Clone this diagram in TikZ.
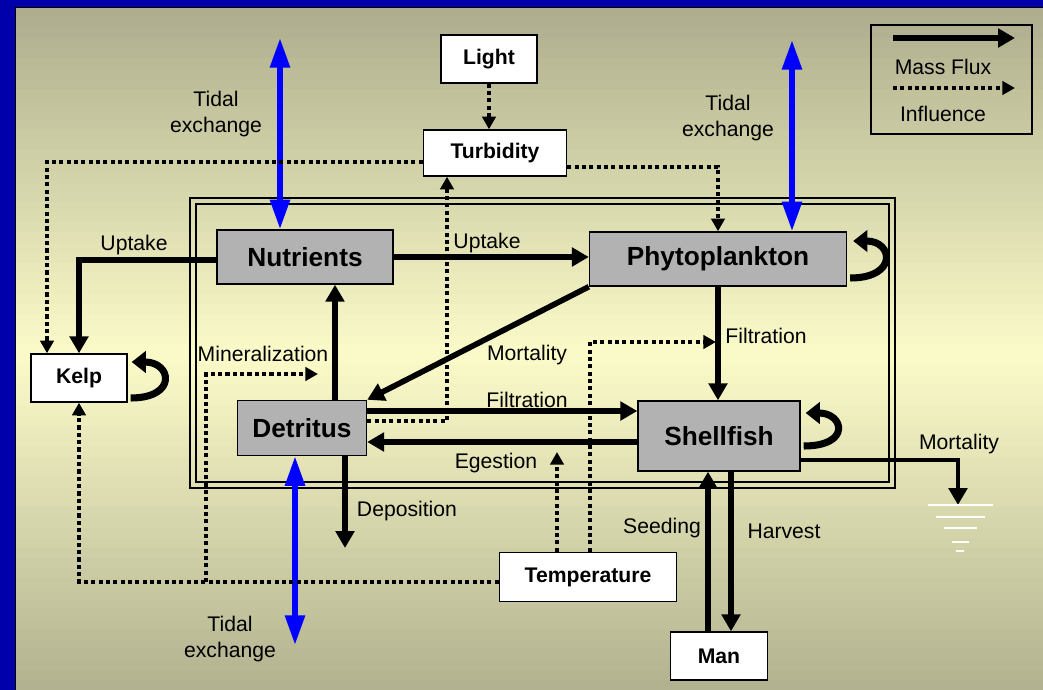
\documentclass[tikz,border=0pt]{standalone}
\usepackage{fontspec}
\setmainfont{Liberation Sans}
\usetikzlibrary{arrows.meta,calc,positioning}

\definecolor{frameblue}{HTML}{0000AA}
\definecolor{bgtop}{HTML}{AEAE8E}
\definecolor{bgmid}{HTML}{FAFAC8}
\definecolor{bgbot}{HTML}{B0B08E}
\definecolor{poolgray}{HTML}{B2B2B2}
\definecolor{tideblue}{HTML}{0000FF}

\tikzset{
  pool/.style={draw=black,line width=1pt,fill=poolgray,inner sep=0pt,
    font=\fontsize{18.6}{20}\selectfont\bfseries},
  driver/.style={draw=black,line width=1pt,fill=white,inner sep=0pt,
    font=\fontsize{15}{17}\selectfont\bfseries},
  lbl/.style={font=\fontsize{15}{18.4}\selectfont,align=center,inner sep=0pt},
  flux/.style={line width=4pt,-{Triangle[length=12pt,width=13pt]}},
  infl/.style={line width=2.9pt,dash pattern=on 2.9pt off 2.3pt,
    -{Triangle[length=9pt,width=9.5pt]}},
  tide/.style={tideblue,line width=4pt,
    {Triangle[length=21pt,width=13.5pt]}-{Triangle[length=21pt,width=13.5pt]}},
  selfloop/.style={line width=5pt,-{Triangle[length=10pt,width=15pt]}},
}

\begin{document}
\begin{tikzpicture}[x=0.7087pt,y=-0.7087pt]
  \useasboundingbox (0,0) rectangle (1043,690);
  % background
  \fill[frameblue] (0,0) rectangle (1043,690);
  \foreach \i in {0,...,33} {
    \pgfmathsetmacro\p{100*\i/33}
    \fill[bgmid!\p!bgtop] (15,7+\i*10.25) rectangle (1043,18+\i*10.25);
  }
  \foreach \i in {0,...,33} {
    \pgfmathsetmacro\p{100*\i/33}
    \fill[bgbot!\p!bgmid] (15,355+\i*10.15) rectangle (1043,366+\i*10.15);
  }
  \draw[line width=1.2pt] (15.5,690) -- (15.5,7.5) -- (1043,7.5);

  % system boundary
  \draw[line width=2pt] (190,198) rectangle (895,488);
  \draw[line width=1.2pt] (196,204) rectangle (889,482);

  % state variables and forcings
  \node[driver,minimum width=68pt,minimum height=34pt] (light) at (489,59) {Light};
  \node[driver,minimum width=101.3pt,minimum height=32.6pt] (turb) at (495,153) {Turbidity};
  \node[pool,minimum width=124.7pt,minimum height=38.3pt] (nut) at (305,257) {Nutrients};
  \node[pool,minimum width=182.1pt,minimum height=38.3pt] (phyto) at (718,259) {Phytoplankton};
  \node[driver,minimum width=68pt,minimum height=34pt] (kelp) at (79,378) {Kelp};
  \node[pool,minimum width=91.4pt,minimum height=39pt] (det) at (302,428) {Detritus};
  \node[pool,minimum width=114.8pt,minimum height=49.6pt] (shell) at (719,436) {Shellfish};
  \node[driver,minimum width=125.4pt,minimum height=34.7pt] (temp) at (588,577) {Temperature};
  \node[driver,minimum width=68.7pt,minimum height=34pt] (man) at (719,656) {Man};

  % free ends and taps
  \coordinate (tide_a) at (280,38);
  \coordinate (tide_b) at (792,40);
  \coordinate (tide_c) at (295,645);
  \coordinate (depo) at (345,548);
  \coordinate (sink) at (958,505);
  \coordinate (min_tap) at (206,582);
  \coordinate (min_end) at (318,374);
  \coordinate (eg_end) at (557,452);
  \coordinate (filt_end) at (716,342);
  \coordinate (filt_start) at ($(det.east)+(0,-17)$);
  \coordinate (eg_start) at ($(shell.west)+(0,6)$);

  % tidal exchange
  \draw[tide] (tide_a) -- (nut.north -| tide_a);
  \draw[tide] (tide_b) -- (phyto.north -| tide_b);
  \draw[tide] (det.south -| tide_c) -- (tide_c);

  % mass flux
  \draw[flux] (nut.east) -- (nut.east -| phyto.west);
  \draw[flux] ($(nut.west)+(0,3)$) -| (kelp);
  \draw[flux] (det.north -| 335,0) -- (nut.south -| 335,0);
  \draw[flux] (phyto.south west) -- (det.north east);
  \draw[flux] (phyto.south) -- (phyto.south |- shell.north);
  \draw[flux] (filt_start) -- (filt_start -| shell.west);
  \draw[flux] (eg_start) -- (eg_start -| det.east);
  \draw[flux] (det.south -| depo) -- (depo);
  \draw[flux,line width=3.2pt] ($(shell.east)+(0,24)$) -| (sink);
  \draw[flux] (man.north -| 708,0) -- (shell.south -| 708,0);
  \draw[flux] (shell.south -| 731,0) -- (man.north -| 731,0);

  % growth loops
  \draw[selfloop] ($(phyto.east)+(3,19)$) .. controls +(48,0) and +(40,0) .. ($(phyto.east)+(6,-18)$);
  \draw[selfloop] ($(shell.east)+(3,10)$) .. controls +(48,0) and +(38,0) .. ($(shell.east)+(5,-23)$);
  \draw[selfloop] ($(kelp.east)+(3,20)$) .. controls +(47,0) and +(40,0) .. ($(kelp.east)+(4,-16)$);

  % influences
  \draw[infl] (light.south) -- (light.south |- turb.north);
  \draw[infl] ($(turb.west)+(0,9)$) -| (kelp.north -| 47,0);
  \draw[infl] ($(turb.east)+(0,14)$) -| (phyto);
  \draw[infl] ($(det.east)+(0,-7)$) -| (turb.south -| 447,0);
  \draw[infl] ($(temp.west)+(0,5)$) -| (kelp);
  \draw[infl] (min_tap) |- (min_end);
  \draw[infl] (temp.north -| eg_end) -- (eg_end);
  \draw[infl] (temp.north -| 590,0) |- (filt_end);

  % sink
  \foreach \y/\a/\b in {505/928/993, 517/936/985, 528/944/977, 542/952/969, 551/956/964}
    \draw[white,line width=1pt] (\a,\y) -- (\b,\y);

  % labels
  \node[lbl] (l_tide_a) at (216,114) {Tidal\\exchange};
  \node[lbl] (l_tide_b) at (728,118) {Tidal\\exchange};
  \node[lbl] (l_tide_c) at (230,639) {Tidal\\exchange};
  \node[lbl] (l_up_kelp) at (134,245) {Uptake};
  \node[lbl] (l_up_phyto) at (487,243) {Uptake};
  \node[lbl] (l_min) at (263,354) {Mineralization};
  \node[lbl] (l_mort) at (527,355) {Mortality};
  \node[lbl] (l_filt_a) at (766,336) {Filtration};
  \node[lbl] (l_filt_b) at (527,400) {Filtration};
  \node[lbl] (l_eg) at (496,463) {Egestion};
  \node[lbl] (l_depo) at (407,511) {Deposition};
  \node[lbl] (l_mort_s) at (959,444) {Mortality};
  \node[lbl] (l_seed) at (662,528) {Seeding};
  \node[lbl] (l_harv) at (784,531) {Harvest};

  % legend
  \node[draw,line width=1pt,minimum width=114.1pt,minimum height=77.2pt] (legend) at (951.5,79.5) {};
  \coordinate (leg_fa) at (893,38);
  \coordinate (leg_fb) at (1015,38);
  \coordinate (leg_ia) at (893,88);
  \coordinate (leg_ib) at (1015,88);
  \draw[flux] (leg_fa) -- (leg_fb);
  \node[lbl] (l_mass) at (943,67) {Mass Flux};
  \draw[infl] (leg_ia) -- (leg_ib);
  \node[lbl] (l_infl) at (943,114) {Influence};
\end{tikzpicture}
\end{document}
